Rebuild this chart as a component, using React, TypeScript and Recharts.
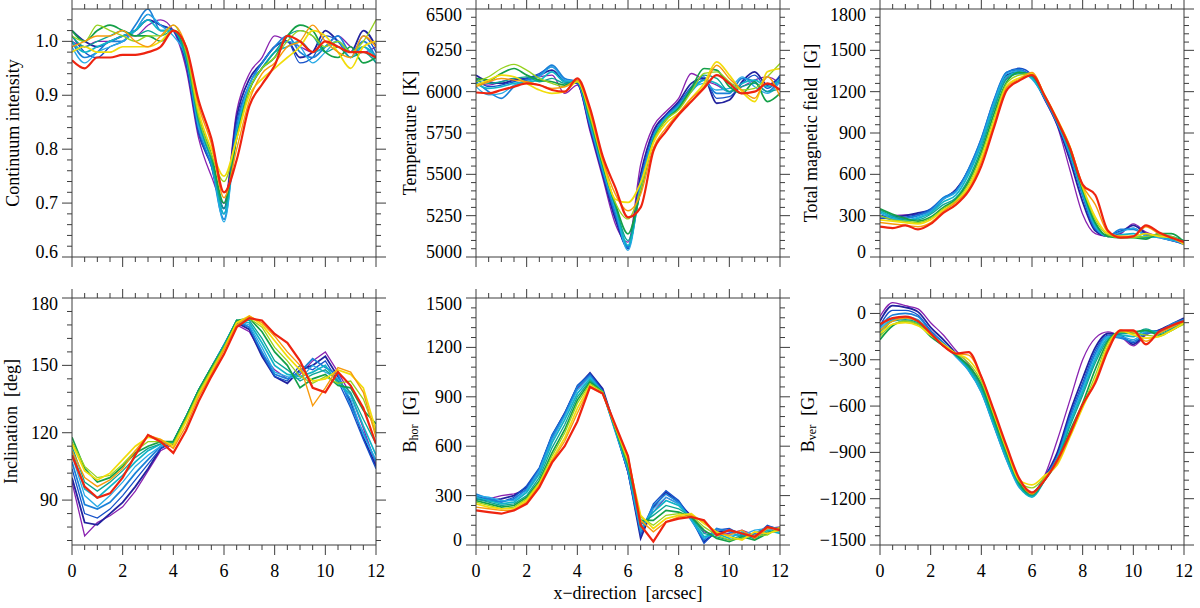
import React from "react";
import { LineChart, Line, XAxis, YAxis } from "recharts";

// x positions (arcsec) shared by every panel
const X = [0, 0.5, 1, 1.5, 2, 2.5, 3, 3.5, 4, 4.5, 5, 5.5, 6, 6.5, 7, 7.5, 8, 8.5, 9, 9.5, 10, 10.5, 11, 11.5, 12];
const X_MAJOR = [0, 2, 4, 6, 8, 10, 12];

// one row per scan, purple -> red
const CONTINUUM = [
  [1.0, 0.99, 1.0, 1.0, 1.01, 1.01, 1.03, 1.04, 1.02, 0.95, 0.82, 0.75, 0.7, 0.87, 0.94, 0.97, 1.01, 1.0, 0.99, 0.98, 0.99, 1.01, 0.99, 0.98, 0.99],
  [1.02, 1.0, 0.99, 1.0, 1.01, 1.02, 1.04, 1.03, 1.02, 0.96, 0.83, 0.77, 0.69, 0.86, 0.93, 0.96, 0.99, 1.0, 0.97, 0.98, 1.02, 1.0, 0.98, 1.02, 0.99],
  [1.01, 0.98, 0.97, 0.99, 1.0, 1.02, 1.05, 1.03, 1.02, 0.96, 0.83, 0.77, 0.68, 0.85, 0.92, 0.96, 0.99, 1.0, 0.96, 0.97, 1.01, 1.0, 0.97, 1.01, 0.98],
  [1.0, 0.97, 0.98, 1.0, 1.0, 1.03, 1.06, 1.02, 1.02, 0.97, 0.84, 0.77, 0.67, 0.84, 0.92, 0.96, 0.99, 1.01, 0.98, 0.97, 0.99, 1.01, 0.98, 1.0, 0.97],
  [0.99, 0.96, 0.98, 0.99, 1.0, 1.02, 1.05, 1.03, 1.01, 0.97, 0.84, 0.78, 0.665, 0.83, 0.92, 0.95, 0.98, 1.0, 0.99, 0.96, 0.98, 1.0, 0.97, 0.99, 0.96],
  [1.0, 0.98, 0.99, 1.0, 1.01, 1.02, 1.04, 1.02, 1.02, 0.97, 0.85, 0.78, 0.68, 0.83, 0.91, 0.95, 0.98, 0.99, 1.0, 0.98, 0.99, 1.0, 0.98, 0.99, 0.97],
  [1.01, 0.99, 1.0, 1.01, 1.02, 1.01, 1.02, 1.01, 1.02, 0.97, 0.85, 0.78, 0.69, 0.82, 0.91, 0.95, 0.98, 1.01, 1.02, 1.01, 0.98, 0.99, 0.97, 0.98, 0.96],
  [1.02, 1.0, 1.02, 1.03, 1.02, 1.01, 1.01, 1.0, 1.02, 0.98, 0.86, 0.79, 0.7, 0.82, 0.91, 0.95, 0.97, 1.01, 1.03, 1.02, 0.98, 0.97, 0.99, 0.96, 0.97],
  [1.01, 1.0, 1.03, 1.02, 1.01, 1.0, 1.01, 1.01, 1.03, 0.98, 0.86, 0.79, 0.74, 0.82, 0.91, 0.95, 0.97, 1.0, 1.02, 1.01, 0.99, 1.0, 0.98, 1.0, 1.04],
  [0.98, 0.99, 0.98, 0.98, 0.99, 0.99, 0.99, 1.0, 1.02, 0.99, 0.87, 0.8, 0.75, 0.82, 0.9, 0.93, 0.95, 0.97, 0.99, 1.02, 1.01, 0.98, 0.95, 0.99, 1.0],
  [0.99, 1.0, 1.01, 1.01, 1.02, 1.0, 0.99, 1.01, 1.03, 0.99, 0.88, 0.81, 0.71, 0.8, 0.89, 0.94, 0.96, 0.99, 1.0, 1.03, 1.0, 0.98, 0.97, 1.01, 0.99],
  [0.965, 0.95, 0.97, 0.97, 0.975, 0.975, 0.98, 0.99, 1.02, 0.99, 0.89, 0.82, 0.72, 0.78, 0.88, 0.92, 0.955, 1.01, 1.0, 0.98, 1.0, 0.99, 0.98, 0.98, 0.97],
];

const TEMPERATURE = [
  [6050, 6040, 6060, 6080, 6070, 6090, 6100, 5990, 6040, 5760, 5480, 5200, 5090, 5560, 5790, 5880, 5960, 6110, 6070, 6040, 6000, 6030, 6070, 6090, 6050],
  [6100, 6060, 6050, 6070, 6080, 6100, 6130, 6060, 6050, 5780, 5500, 5230, 5060, 5500, 5760, 5860, 5940, 6050, 6080, 5930, 5950, 6060, 6120, 6040, 6090],
  [6080, 6030, 6040, 6060, 6080, 6110, 6150, 6070, 6050, 5790, 5510, 5250, 5050, 5470, 5740, 5850, 5930, 6030, 6090, 5960, 5970, 6050, 6100, 6020, 6100],
  [6060, 6000, 5960, 6030, 6070, 6100, 6160, 6080, 6060, 5800, 5520, 5270, 5060, 5450, 5730, 5850, 5920, 6020, 6070, 5990, 5990, 6080, 6060, 6000, 6080],
  [6030, 5980, 5990, 6040, 6060, 6090, 6150, 6070, 6060, 5810, 5530, 5290, 5040, 5430, 5720, 5840, 5910, 6010, 6050, 6010, 6020, 6090, 6030, 5990, 6060],
  [6050, 6020, 6030, 6050, 6060, 6070, 6120, 6060, 6060, 5820, 5540, 5300, 5070, 5420, 5720, 5840, 5910, 6000, 6070, 6050, 6000, 6050, 6070, 6030, 6070],
  [6070, 6050, 6060, 6080, 6090, 6060, 6080, 6050, 6060, 5830, 5550, 5310, 5100, 5400, 5710, 5830, 5900, 6010, 6100, 6080, 6000, 6030, 6050, 6000, 6020],
  [6080, 6070, 6110, 6140, 6100, 6070, 6060, 6040, 6060, 5840, 5560, 5320, 5140, 5400, 5700, 5830, 5900, 6020, 6140, 6130, 6030, 5990, 6060, 5940, 5990],
  [6060, 6090, 6140, 6165, 6130, 6080, 6050, 6030, 6070, 5850, 5570, 5330, 5230, 5410, 5700, 5830, 5890, 6000, 6110, 6120, 6060, 6010, 6020, 6090, 6170],
  [6040, 6070, 6100, 6090, 6050, 6010, 5990, 6000, 6060, 5870, 5580, 5350, 5330, 5450, 5690, 5810, 5870, 5960, 6050, 6180, 6100, 6000, 5940, 6120, 6140],
  [6030, 6060, 6080, 6070, 6060, 6040, 6020, 6030, 6070, 5880, 5590, 5380, 5280, 5380, 5660, 5780, 5870, 5960, 6030, 6160, 6080, 6010, 5960, 6090, 5970],
  [5995, 5990, 6010, 6030, 6050, 6040, 6010, 6000, 6080, 5900, 5610, 5420, 5240, 5300, 5640, 5760, 5860, 5940, 6020, 6100, 6050, 5990, 6000, 6050, 6010],
];

const FIELD = [
  [290, 300, 305, 310, 330, 420, 490, 620, 820, 1090, 1300, 1340, 1310, 1140, 950, 630, 310, 170, 150, 170, 240, 180, 150, 130, 100],
  [300, 290, 300, 320, 340, 420, 490, 630, 840, 1120, 1320, 1350, 1310, 1150, 960, 700, 400, 190, 150, 180, 230, 170, 150, 120, 100],
  [280, 280, 290, 310, 350, 430, 480, 640, 860, 1140, 1340, 1370, 1320, 1150, 970, 730, 440, 200, 160, 190, 210, 160, 140, 120, 90],
  [300, 270, 280, 300, 340, 430, 480, 640, 860, 1140, 1340, 1360, 1300, 1150, 970, 740, 450, 210, 150, 200, 200, 160, 150, 130, 110],
  [320, 280, 270, 290, 330, 420, 470, 620, 840, 1120, 1330, 1350, 1290, 1160, 975, 750, 460, 220, 150, 180, 210, 150, 140, 120, 100],
  [330, 290, 260, 280, 320, 400, 450, 600, 820, 1100, 1310, 1340, 1300, 1160, 980, 760, 470, 230, 150, 160, 170, 140, 150, 130, 110],
  [340, 300, 270, 270, 310, 380, 430, 570, 790, 1070, 1290, 1330, 1310, 1165, 985, 770, 480, 240, 150, 140, 150, 140, 160, 150, 120],
  [350, 310, 280, 260, 290, 360, 420, 550, 760, 1040, 1270, 1340, 1320, 1170, 990, 780, 490, 250, 150, 140, 140, 130, 170, 170, 110],
  [300, 270, 260, 250, 280, 350, 410, 530, 740, 1010, 1260, 1320, 1330, 1170, 995, 790, 500, 270, 160, 140, 140, 150, 160, 150, 100],
  [270, 260, 250, 240, 270, 340, 400, 510, 710, 980, 1240, 1300, 1330, 1175, 1000, 800, 510, 290, 170, 150, 150, 170, 150, 140, 90],
  [250, 240, 230, 220, 250, 330, 400, 490, 690, 960, 1230, 1290, 1340, 1170, 995, 800, 520, 380, 180, 150, 150, 220, 170, 140, 100],
  [220, 210, 230, 200, 240, 320, 380, 480, 660, 940, 1210, 1280, 1320, 1170, 990, 790, 525, 450, 190, 140, 150, 230, 180, 140, 110],
];

const INCLINATION = [
  [98, 74, 80, 83, 87, 94, 103, 112, 115, 126, 138, 148, 159, 168, 165, 155, 148, 144, 146, 152, 156, 147, 137, 122, 106],
  [100, 80, 79, 84, 89, 96, 104, 113, 116, 127, 139, 149, 159, 169, 166, 154, 145, 142, 148, 150, 154, 145, 134, 118, 105],
  [104, 84, 82, 86, 92, 99, 106, 113, 116, 127, 139, 149, 159, 169, 167, 155, 145, 143, 150, 148, 152, 143, 131, 117, 104],
  [107, 88, 86, 89, 95, 102, 108, 114, 116, 127, 139, 149, 159, 170, 167, 156, 146, 144, 147, 153, 149, 146, 132, 120, 107],
  [110, 92, 87, 92, 98, 105, 110, 114, 116, 127, 139, 149, 159, 170, 168, 158, 147, 145, 144, 150, 147, 144, 135, 119, 108],
  [112, 95, 91, 96, 101, 107, 112, 115, 116, 127, 139, 149, 159, 170, 169, 160, 150, 146, 145, 147, 150, 142, 137, 123, 110],
  [114, 98, 94, 98, 103, 109, 113, 115, 116, 127, 139, 149, 159, 170, 170, 162, 152, 148, 143, 146, 148, 143, 138, 126, 115],
  [118, 104, 98, 100, 105, 111, 114, 116, 116, 127, 139, 149, 158, 170, 171, 165, 156, 150, 140, 144, 146, 141, 140, 130, 124],
  [116, 105, 100, 101, 106, 112, 116, 116, 115, 126, 138, 148, 158, 169, 171, 167, 158, 152, 145, 142, 145, 142, 143, 135, 120],
  [115, 103, 99, 102, 108, 114, 118, 117, 114, 125, 137, 147, 157, 169, 172, 168, 161, 154, 148, 143, 144, 148, 146, 140, 121],
  [112, 100, 96, 99, 104, 112, 119, 117, 113, 123, 136, 146, 157, 168, 172, 169, 163, 156, 150, 132, 140, 149, 147, 138, 118],
  [110, 96, 91, 93, 100, 110, 119, 116, 111, 121, 134, 145, 155, 167, 171, 170, 164, 160, 152, 140, 138, 147, 141, 131, 115],
];

const B_HOR = [
  [290, 280, 300, 310, 330, 440, 640, 790, 950, 1030, 940, 700, 440, 120, 200, 290, 250, 180, 80, 60, 70, 90, 60, 100, 110],
  [280, 270, 280, 300, 350, 460, 660, 800, 960, 1045, 950, 710, 450, 40, 230, 320, 260, 170, 20, 80, 90, 70, 40, 110, 100],
  [300, 270, 260, 290, 360, 470, 670, 800, 970, 1040, 940, 700, 440, 60, 250, 330, 270, 160, 10, 90, 100, 60, 50, 120, 90],
  [310, 280, 260, 280, 340, 460, 660, 790, 960, 1030, 930, 690, 450, 80, 240, 310, 260, 150, 30, 100, 80, 50, 70, 110, 100],
  [300, 290, 270, 270, 330, 450, 640, 780, 940, 1020, 930, 690, 460, 90, 220, 290, 250, 150, 40, 80, 60, 60, 90, 100, 80],
  [290, 270, 250, 260, 320, 430, 620, 760, 920, 1010, 930, 700, 470, 100, 200, 270, 240, 160, 50, 70, 40, 80, 50, 90, 70],
  [280, 260, 240, 250, 300, 410, 590, 730, 900, 1000, 930, 700, 480, 130, 180, 240, 220, 170, 70, 50, 30, 60, 40, 80, 90],
  [270, 250, 230, 240, 290, 390, 560, 700, 880, 990, 930, 710, 490, 150, 150, 210, 200, 170, 90, 40, 20, 50, 30, 70, 100],
  [260, 240, 220, 230, 280, 380, 540, 680, 860, 980, 930, 710, 500, 170, 120, 180, 190, 180, 110, 60, 30, 40, 60, 60, 110],
  [250, 230, 220, 220, 270, 370, 520, 650, 830, 970, 920, 720, 520, 180, 100, 160, 180, 190, 130, 80, 50, 30, 80, 70, 90],
  [230, 220, 210, 210, 260, 360, 510, 630, 800, 960, 920, 720, 540, 150, 80, 140, 170, 180, 140, 70, 60, 90, 40, 100, 100],
  [210, 200, 190, 210, 250, 350, 500, 600, 750, 960, 920, 730, 540, 120, 20, 140, 160, 170, 150, 60, 90, 70, 50, 110, 90],
];

const B_VER = [
  [-20, 70, 50, 30, -60, -140, -240, -330, -470, -700, -920, -1080, -1170, -1050, -820, -560, -300, -160, -120, -150, -210, -140, -110, -80, -40],
  [-50, 50, 40, 10, -90, -170, -260, -360, -500, -720, -940, -1100, -1170, -1060, -900, -640, -420, -220, -130, -140, -200, -130, -110, -70, -30],
  [-80, 20, 20, -10, -110, -190, -270, -360, -500, -720, -940, -1110, -1160, -1060, -920, -660, -450, -240, -140, -150, -190, -120, -110, -80, -40],
  [-90, -10, 0, -20, -120, -190, -280, -370, -510, -730, -950, -1120, -1170, -1070, -930, -680, -470, -260, -150, -160, -180, -130, -120, -70, -40],
  [-100, -30, -20, -40, -130, -200, -280, -370, -510, -730, -950, -1130, -1180, -1080, -940, -700, -490, -280, -150, -150, -170, -120, -120, -80, -50],
  [-120, -40, -30, -50, -140, -210, -270, -360, -500, -720, -940, -1120, -1190, -1080, -940, -710, -510, -300, -160, -140, -150, -110, -120, -90, -50],
  [-140, -50, -40, -60, -140, -210, -270, -350, -480, -700, -920, -1110, -1180, -1080, -950, -730, -530, -320, -170, -130, -130, -100, -130, -100, -60],
  [-170, -80, -50, -70, -150, -210, -270, -340, -460, -680, -900, -1100, -1170, -1080, -960, -760, -580, -360, -180, -120, -120, -110, -140, -110, -60],
  [-150, -70, -50, -70, -140, -200, -260, -320, -440, -660, -890, -1090, -1130, -1060, -960, -780, -600, -400, -190, -120, -130, -140, -150, -110, -70],
  [-130, -70, -60, -80, -140, -200, -260, -300, -420, -650, -880, -1080, -1110, -1050, -980, -800, -610, -430, -210, -110, -140, -160, -150, -110, -60],
  [-110, -50, -30, -50, -130, -210, -260, -270, -410, -640, -870, -1080, -1170, -1070, -970, -790, -590, -440, -220, -110, -120, -180, -130, -90, -50],
  [-70, -30, -20, -50, -130, -210, -260, -250, -410, -630, -860, -1070, -1160, -1080, -950, -780, -590, -450, -240, -110, -110, -200, -120, -80, -50],
];

const COLORS = ["#8a22b0", "#22229e", "#1450c8", "#1a80d8", "#28aae6", "#10b4c8", "#0aa494", "#14a048", "#96d21e", "#f2dc0a", "#f89a0c", "#ee2410"];
const WIDTHS = [1.3, 1.8, 1.3, 1.7, 1.3, 1.7, 1.3, 1.7, 1.3, 1.7, 1.4, 2.2];

const AXIS = "#3c3c3c";
const FONT = '"Liberation Serif", "Times New Roman", serif';
const PAD_LEFT = 90; // room for tick labels and the rotated title

function steps(start: number, end: number, step: number) {
  const out: number[] = [];
  const n = Math.round((end - start) / step);
  for (let i = 0; i <= n; i++) out.push(Math.round((start + i * step) * 1e6) / 1e6);
  return out;
}

function merge(a: number[], b: number[]) {
  return Array.from(new Set([...a, ...b])).sort((p, q) => p - q);
}

const near = (a: number, b: number) => Math.abs(a - b) < 1e-6;

const X_TICKS = merge(X_MAJOR, steps(0, 12, 0.5));

function fmtNum(v: number) {
  return v < 0 ? "\u2212" + Math.abs(v) : String(v);
}

function makeTick(side: string, majors: number[], fmt?: (v: number) => string, dom?: number[]) {
  return (props: any) => {
    const { x, y, payload } = props;
    const v = payload.value as number;
    const major = majors.some((m) => near(m, v));
    const len = major ? 10 : 5;
    let x2 = x;
    let y2 = y;
    if (side === "left") x2 = x - len;
    if (side === "right") x2 = x + len;
    if (side === "top") y2 = y - len;
    if (side === "bottom") y2 = y + len;
    let label = null;
    if (fmt && major) {
      if (side === "left") {
        let ty = y + 6;
        if (dom && near(v, dom[1])) ty += 6;
        if (dom && near(v, dom[0])) ty -= 5;
        label = (
          <text x={x - 14} y={ty} textAnchor="end" fontFamily={FONT} fontSize={18} fill="#000">
            {fmt(v)}
          </text>
        );
      } else if (side === "bottom") {
        label = (
          <text x={x} y={y + 32} textAnchor="middle" fontFamily={FONT} fontSize={18} fill="#000">
            {fmt(v)}
          </text>
        );
      }
    }
    return (
      <g>
        <line x1={x} y1={y} x2={x2} y2={y2} stroke={AXIS} strokeWidth={1} />
        {label}
      </g>
    );
  };
}

const sub = (main: string, s: string, unit: string) => (
  <>
    <tspan>{main}</tspan>
    <tspan fontSize={12} dy={4}>
      {s}
    </tspan>
    <tspan dy={-4}>{"\u00a0\u00a0" + unit}</tspan>
  </>
);

const PANELS = [
  { series: CONTINUUM, domain: [0.6, 1.06], major: [0.6, 0.7, 0.8, 0.9, 1.0], minor: steps(0.62, 1.04, 0.02), fmt: (v: number) => v.toFixed(1), title: "Continuum intensity", gap: 59, row: 0, col: 0, curve: "monotone" },
  { series: TEMPERATURE, domain: [5000, 6500], major: [5000, 5250, 5500, 5750, 6000, 6250, 6500], minor: steps(5000, 6450, 50), fmt: fmtNum, title: "Temperature\u00a0\u00a0[K]", gap: 66, row: 0, col: 1, curve: "monotone" },
  { series: FIELD, domain: [0, 1800], major: [0, 300, 600, 900, 1200, 1500, 1800], minor: steps(0, 1740, 60), fmt: fmtNum, title: "Total magnetic field\u00a0\u00a0[G]", gap: 69, row: 0, col: 2, curve: "monotone" },
  { series: INCLINATION, domain: [70, 180], major: [90, 120, 150, 180], minor: steps(72, 174, 6), fmt: fmtNum, title: "Inclination\u00a0\u00a0[deg]", gap: 61, row: 1, col: 0, curve: "linear" },
  { series: B_HOR, domain: [0, 1500], major: [0, 300, 600, 900, 1200, 1500], minor: steps(0, 1440, 60), fmt: fmtNum, title: sub("B", "hor", "[G]"), gap: 66, row: 1, col: 1, curve: "linear", xTitle: true },
  { series: B_VER, domain: [-1500, 100], major: [-1500, -1200, -900, -600, -300, 0], minor: steps(-1500, 60, 60), fmt: fmtNum, title: sub("B", "ver", "[G]"), gap: 72, row: 1, col: 2, curve: "monotone" },
];

function Panel({ spec }: { spec: any }) {
  const top = spec.row === 0 ? 0 : 289;
  const height = spec.row === 0 ? 290 : 319;
  const plotH = spec.row === 0 ? 248 : 247;
  const mb = height - 9 - plotH;
  const data = X.map((x, i) => {
    const r: any = { x };
    spec.series.forEach((s: number[], k: number) => (r["s" + k] = s[i]));
    return r;
  });
  const yTicks = merge(spec.major, spec.minor);
  const titleFn = () => (
    <text
      transform={`translate(${PAD_LEFT - spec.gap},${9 + plotH / 2}) rotate(-90)`}
      textAnchor="middle"
      dominantBaseline="central"
      fontFamily={FONT}
      fontSize={18}
      fill="#000"
    >
      {spec.title}
    </text>
  );
  const xTitleFn = () => (
    <text x={PAD_LEFT + 152} y={599 - top} textAnchor="middle" fontFamily={FONT} fontSize={18} fill="#000">
      {"x\u2212direction\u00a0\u00a0[arcsec]"}
    </text>
  );
  const common = { tickSize: 0, tickMargin: 0, tickLine: false, axisLine: { stroke: AXIS, strokeWidth: 1 }, interval: 0 as const, allowDataOverflow: true };
  // each axis takes 1px, so the margins are 1px smaller than the plot offsets
  return (
    <div style={{ position: "absolute", left: 72 + spec.col * 404 - PAD_LEFT, top }}>
      <LineChart width={PAD_LEFT + 304 + 16} height={height} data={data} margin={{ top: 8, right: 15, bottom: mb - 1, left: PAD_LEFT - 1 }}>
        <XAxis
          xAxisId="b"
          dataKey="x"
          type="number"
          domain={[0, 12]}
          ticks={X_TICKS}
          orientation="bottom"
          height={1}
          tick={makeTick("bottom", X_MAJOR, spec.row === 1 ? fmtNum : undefined)}
          label={spec.xTitle ? xTitleFn : undefined}
          {...common}
        />
        <XAxis xAxisId="t" dataKey="x" type="number" domain={[0, 12]} ticks={X_TICKS} orientation="top" height={1} tick={makeTick("top", X_MAJOR)} {...common} />
        <YAxis
          yAxisId="l"
          type="number"
          domain={spec.domain}
          ticks={yTicks}
          orientation="left"
          width={1}
          tick={makeTick("left", spec.major, spec.fmt, spec.domain)}
          label={titleFn}
          {...common}
        />
        <YAxis yAxisId="r" type="number" domain={spec.domain} ticks={yTicks} orientation="right" width={1} tick={makeTick("right", spec.major)} {...common} />
        {spec.series.map((_: number[], k: number) => (
          <Line
            key={k}
            xAxisId="b"
            yAxisId="l"
            dataKey={"s" + k}
            type={spec.curve}
            stroke={COLORS[k]}
            strokeWidth={WIDTHS[k]}
            dot={false}
            activeDot={false}
            isAnimationActive={false}
          />
        ))}
      </LineChart>
    </div>
  );
}

export default function App() {
  return (
    <div style={{ position: "absolute", left: 0, top: 0, width: 1200, height: 608, background: "#fff", overflow: "hidden" }}>
      {PANELS.map((p, i) => (
        <Panel key={i} spec={p} />
      ))}
    </div>
  );
}
